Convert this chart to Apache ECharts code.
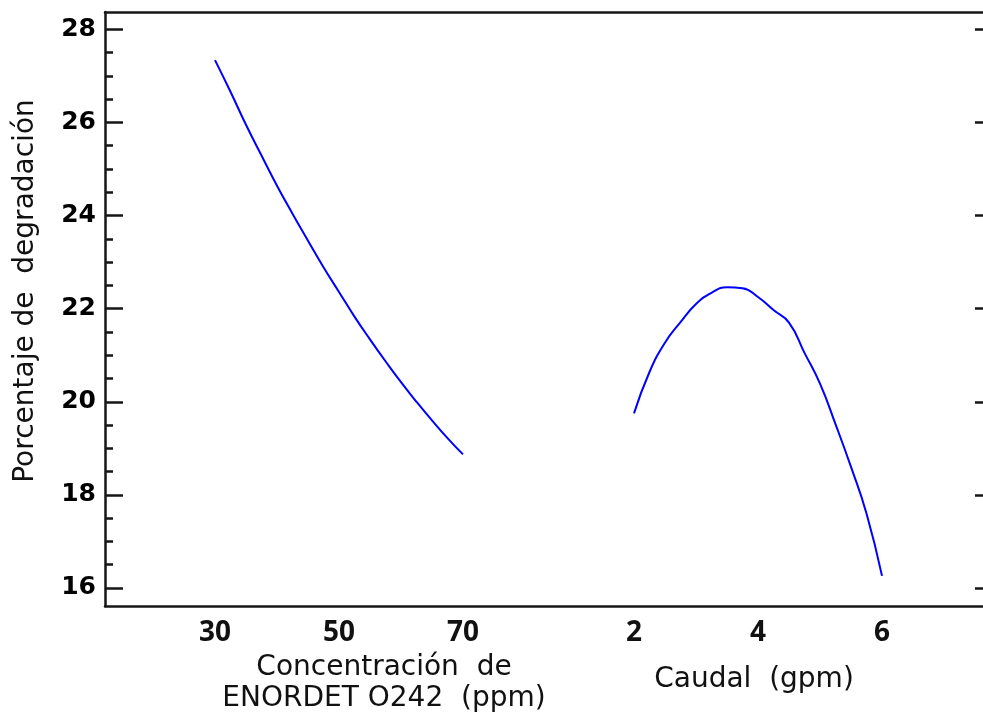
<!DOCTYPE html>
<html>
<head>
<meta charset="utf-8">
<title>Efectos principales - Porcentaje de degradación</title>
<script src="https://cdn.jsdelivr.net/npm/echarts@6/dist/echarts.min.js"></script>
<style>
  html, body { margin: 0; padding: 0; background: #fff; overflow: hidden; }
  #main { width: 1000px; height: 719px; }
</style>
</head>
<body>
<div id="main"></div>
<script>
// Concentración de ENORDET O242 (ppm) vs. porcentaje de degradación
const concValues = [30, 32.5, 35, 37.5, 40, 42.5, 45, 47.5, 50, 52.5, 55, 57.5, 60, 62.5, 65, 67.5, 70];
const concResponse = [27.34, 26.66, 25.95, 25.29, 24.64, 24.04, 23.46, 22.89, 22.36, 21.83, 21.34, 20.87, 20.42, 20.00, 19.60, 19.22, 18.87];

// Caudal (gpm) vs. porcentaje de degradación
const flowValues = [2, 2.25, 2.5, 2.75, 3, 3.25, 3.5, 3.75, 4, 4.25, 4.5, 4.75, 5, 5.25, 5.5, 5.75, 6];
const flowResponse = [19.75, 20.64, 21.27, 21.71, 22.10, 22.34, 22.46, 22.44, 22.25, 21.97, 21.70, 21.05, 20.39, 19.52, 18.60, 17.60, 16.26];

// Tick values
const yMajorTicks = [16, 18, 20, 22, 24, 26, 28];
const yMinorTicks = [16.5, 17, 17.5, 18.5, 19, 19.5, 20.5, 21, 21.5, 22.5, 23, 23.5, 24.5, 25, 25.5, 26.5, 27, 27.5];
const concTicks = [30, 50, 70];
const flowTicks = [2, 4, 6];

// Axis titles
const yTitle = 'Porcentaje de  degradación';
const concTitle = 'Concentración  de\nENORDET O242  (ppm)';
const flowTitle = 'Caudal  (gpm)';

const Y_MIN = 15.613;
const Y_MAX = 28.373;

const frameTop = 12;
const frameHeight = 594;
const ink = '#161616';
const curveColor = '#0000ff';

const chart = echarts.init(document.getElementById('main'), null, { renderer: 'canvas' });

const hiddenY = (gridIndex) => ({
  type: 'value', gridIndex, min: Y_MIN, max: Y_MAX,
  axisLine: { show: false }, axisTick: { show: false },
  axisLabel: { show: false }, splitLine: { show: false }
});

const frameLine = { show: true, lineStyle: { color: ink, width: 2.5 } };

chart.setOption({
  animation: false,
  backgroundColor: '#ffffff',
  grid: [
    // outer frame (its right edge lies just past the visible area)
    { left: 105, top: frameTop, width: 888, height: frameHeight },
    // concentration panel
    { left: 215, top: frameTop, width: 248, height: frameHeight },
    // flow panel
    { left: 634, top: frameTop, width: 248, height: frameHeight }
  ],
  xAxis: [
    { type: 'value', gridIndex: 0, min: 0, max: 1, position: 'bottom',
      axisLine: frameLine, axisTick: { show: false }, axisLabel: { show: false },
      splitLine: { show: false } },
    { type: 'value', gridIndex: 0, min: 0, max: 1, position: 'top',
      axisLine: frameLine, axisTick: { show: false }, axisLabel: { show: false },
      splitLine: { show: false } },
    {
      type: 'value', gridIndex: 1, min: 30, max: 70,
      axisLine: { show: false }, axisTick: { show: false }, splitLine: { show: false },
      axisLabel: {
        customValues: concTicks, margin: 13, color: '#111',
        fontFamily: 'Open Sans', fontWeight: 'bold', fontSize: 28
      }
    },
    {
      type: 'value', gridIndex: 2, min: 2, max: 6, interval: 2,
      axisLine: { show: false }, axisTick: { show: false }, splitLine: { show: false },
      axisLabel: {
        customValues: flowTicks, margin: 13, color: '#111',
        fontFamily: 'Open Sans', fontWeight: 'bold', fontSize: 28
      }
    }
  ],
  yAxis: [
    // left axis with major ticks and labels
    {
      type: 'value', gridIndex: 0, min: Y_MIN, max: Y_MAX, position: 'left',
      axisLine: frameLine, splitLine: { show: false },
      axisTick: { show: true, inside: true, length: 18, customValues: yMajorTicks,
        lineStyle: { color: ink, width: 2.5 } },
      axisLabel: { customValues: yMajorTicks, margin: 9, color: '#000',
        fontFamily: 'DejaVu Sans', fontWeight: 'bold', fontSize: 25 }
    },
    // left axis minor ticks
    {
      type: 'value', gridIndex: 0, min: Y_MIN, max: Y_MAX, position: 'left',
      axisLine: { show: false }, splitLine: { show: false }, axisLabel: { show: false },
      axisTick: { show: true, inside: true, length: 8, customValues: yMinorTicks,
        lineStyle: { color: ink, width: 2.5 } }
    },
    // right-hand major ticks
    {
      type: 'value', gridIndex: 0, min: Y_MIN, max: Y_MAX, position: 'right',
      axisLine: { show: false }, splitLine: { show: false }, axisLabel: { show: false },
      axisTick: { show: true, inside: true, length: 18, customValues: yMajorTicks,
        lineStyle: { color: ink, width: 2.5 } }
    },
    hiddenY(1),
    hiddenY(2)
  ],
  series: [
    {
      type: 'line', xAxisIndex: 2, yAxisIndex: 3,
      data: concValues.map((c, i) => [c, concResponse[i]]),
      smooth: true, showSymbol: false,
      lineStyle: { color: curveColor, width: 2 }
    },
    {
      type: 'line', xAxisIndex: 3, yAxisIndex: 4,
      data: flowValues.map((f, i) => [f, flowResponse[i]]),
      smooth: true, showSymbol: false,
      lineStyle: { color: curveColor, width: 2 }
    }
  ],
  graphic: [
    {
      type: 'text', x: 26, y: 291, rotation: Math.PI / 2,
      style: { text: yTitle, align: 'center', verticalAlign: 'middle',
        font: '28px "DejaVu Sans"', fill: '#111' }
    },
    {
      type: 'text', x: 384, y: 683,
      style: { text: concTitle, align: 'center', verticalAlign: 'middle',
        font: '28px "DejaVu Sans"', lineHeight: 31, fill: '#111' }
    },
    {
      type: 'text', x: 754, y: 680,
      style: { text: flowTitle, align: 'center', verticalAlign: 'middle',
        font: '28px "DejaVu Sans"', fill: '#111' }
    }
  ]
});
</script>
</body>
</html>
